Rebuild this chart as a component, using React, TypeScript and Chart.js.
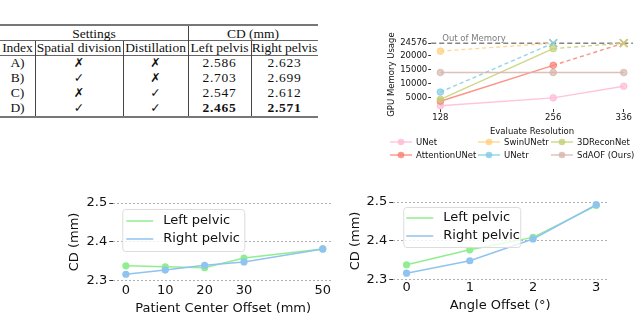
import React, { useEffect, useRef } from "react";
import { Chart, registerables } from "chart.js";
Chart.register(...registerables);

// ---------------- Table data ----------------
const TABLE_GROUPS = ["Settings", "CD (mm)"];
const TABLE_HEADERS = ["Index", "Spatial division", "Distillation", "Left pelvis", "Right pelvis"];
const TABLE_INDEX = ["A)", "B)", "C)", "D)"];
const SPATIAL_DIVISION = [false, true, false, true];
const DISTILLATION = [false, false, true, true];
const LEFT_PELVIS = ["2.586", "2.703", "2.547", "2.465"];
const RIGHT_PELVIS = ["2.623", "2.699", "2.612", "2.571"];
const BOLD_ROW = 3;

// ---------------- GPU memory chart data ----------------
const RESOLUTIONS = [128, 256, 336];
const OOM = 24576;
const OOM_TEXT = "Out of Memory";
const GPU_LABELS = ["UNet", "AttentionUNet", "SwinUNetr", "UNetr", "3DReconNet", "SdAOF (Ours)"];
const UNET = [2100, 4900, 9100];
const ATTENTION_UNET = [3700, 16600, OOM];
const SWIN_UNETR = [21700, OOM, null];
const UNETR = [7000, OOM, null];
const RECON_3D = [4400, 22600, OOM];
const SDAOF = [14000, 14000, 14000];
const GPU_Y_TICKS = [5000, 10000, 15000, 20000, 24576];
const GPU_VALUES = [UNET, ATTENTION_UNET, SWIN_UNETR, UNETR, RECON_3D, SDAOF];
const GPU_COLORS = ["#ffb9d6", "#fa8072", "#ffd07a", "#7fcbe6", "#c3d173", "#d6b5ad"];

// ---------------- CD charts data ----------------
const CD_SERIES = ["Left pelvic", "Right pelvic"];
const CD_Y_TICKS = [2.3, 2.4, 2.5];
const CENTER_OFFSET = [0, 10, 20, 30, 50];
const CENTER_LEFT = [2.3385, 2.336, 2.3335, 2.3585, 2.382];
const CENTER_RIGHT = [2.3168, 2.3275, 2.34, 2.3485, 2.382];
const ANGLE_OFFSET = [0, 1, 2, 3];
const ANGLE_LEFT = [2.3387, 2.377, 2.409, 2.4907];
const ANGLE_RIGHT = [2.317, 2.349, 2.405, 2.493];
const CD_COLORS = ["#90ee90", "#8fc3f0"];

const SANS = '"DejaVu Sans", sans-serif';
const TEXT = "#111";

function alpha(hex: string, a: number) {
  const n = parseInt(hex.slice(1), 16);
  return `rgba(${(n >> 16) & 255},${(n >> 8) & 255},${n & 255},${a})`;
}

function ChartCanvas({ makeConfig, left, top, width, height }: any) {
  const ref = useRef<HTMLCanvasElement>(null);
  useEffect(() => {
    const chart = new Chart(ref.current as HTMLCanvasElement, makeConfig());
    return () => chart.destroy();
  }, []);
  return (
    <canvas
      ref={ref}
      width={width}
      height={height}
      style={{ position: "absolute", left, top, width, height }}
    />
  );
}

// ---------------- Plugins ----------------
const oomPlugin = {
  id: "oomLine",
  beforeDatasetsDraw(chart: any) {
    const { ctx, chartArea, scales } = chart;
    const py = scales.y.getPixelForValue(OOM);
    ctx.save();
    ctx.strokeStyle = "rgba(110,110,110,0.85)";
    ctx.lineWidth = 1.5;
    ctx.setLineDash([5, 3]);
    ctx.beginPath();
    ctx.moveTo(chartArea.left, py);
    ctx.lineTo(chartArea.right, py);
    ctx.stroke();
    ctx.setLineDash([]);
    ctx.fillStyle = "rgba(110,110,110,0.9)";
    ctx.font = `8.5px ${SANS}`;
    ctx.textBaseline = "bottom";
    ctx.textAlign = "left";
    ctx.fillText(OOM_TEXT, chartArea.left + 11, py - 0.5);
    ctx.restore();
  },
};

const boxLegendPlugin = {
  id: "boxLegend",
  afterDraw(chart: any, _args: any, opts: any) {
    const { ctx, chartArea } = chart;
    const x = chartArea.left + opts.dx;
    const y = chartArea.top + opts.dy;
    ctx.save();
    ctx.beginPath();
    ctx.roundRect(x + 0.5, y + 0.5, opts.w, opts.h, 3);
    ctx.fillStyle = "rgba(255,255,255,0.8)";
    ctx.fill();
    ctx.strokeStyle = "#dcdcdc";
    ctx.lineWidth = 1;
    ctx.stroke();
    ctx.font = `13px ${SANS}`;
    ctx.textBaseline = "middle";
    ctx.textAlign = "left";
    chart.data.datasets.forEach((ds: any, i: number) => {
      const ly = y + opts.rows[i];
      ctx.strokeStyle = ds.borderColor;
      ctx.lineWidth = 1.5;
      ctx.beginPath();
      ctx.moveTo(x + opts.lineX[0], ly);
      ctx.lineTo(x + opts.lineX[1], ly);
      ctx.stroke();
      ctx.fillStyle = TEXT;
      ctx.fillText(ds.label, x + opts.textX, ly);
    });
    ctx.restore();
  },
};

// ---------------- Configs ----------------
function gpuConfig() {
  return {
    type: "line",
    data: {
      datasets: GPU_LABELS.map((label, i) => {
        const vals = GPU_VALUES[i];
        const pts = RESOLUTIONS.map((r, j) => ({ x: r, y: vals[j] })).filter((p) => p.y !== null);
        return {
          label,
          data: pts,
          order: GPU_LABELS.length - i,
          borderColor: alpha(GPU_COLORS[i], 0.85),
          backgroundColor: alpha(GPU_COLORS[i], 0.75),
          pointBackgroundColor: alpha(GPU_COLORS[i], 0.7),
          pointBorderColor: pts.map((p) => alpha(GPU_COLORS[i], p.y === OOM ? 0.95 : 0.8)),
          borderWidth: 1.4,
          pointStyle: pts.map((p) => (p.y === OOM ? "crossRot" : "circle")),
          pointRadius: pts.map((p) => (p.y === OOM ? 5.5 : 3.3)),
          pointBorderWidth: pts.map((p) => (p.y === OOM ? 1.6 : 1)),
          segment: {
            borderDash: (ctx: any) => (ctx.p1.parsed.y === OOM ? [4, 3] : undefined),
          },
          clip: false,
          tension: 0,
        };
      }),
    },
    options: {
      animation: false,
      responsive: false,
      devicePixelRatio: 1,
      layout: { padding: { top: 20, right: 2, bottom: 0, left: 0 } },
      plugins: { legend: { display: false }, tooltip: { enabled: false } },
      scales: {
        x: {
          type: "linear",
          min: 117.6,
          max: 346.4,
          afterBuildTicks: (s: any) => {
            s.ticks = RESOLUTIONS.map((v) => ({ value: v }));
          },
          grid: { drawOnChartArea: false, drawTicks: true, tickLength: 3, tickColor: "#333" },
          border: { display: false },
          ticks: { font: { family: SANS, size: 8.5 }, color: TEXT, padding: 1, maxRotation: 0 },
          title: {
            display: true,
            text: "Evaluate Resolution",
            font: { family: SANS, size: 8.5 },
            color: TEXT,
            padding: { top: 2.5, bottom: 0 },
          },
        },
        y: {
          type: "linear",
          min: 870,
          max: 25705,
          afterBuildTicks: (s: any) => {
            s.ticks = GPU_Y_TICKS.map((v) => ({ value: v }));
          },
          grid: { drawOnChartArea: false, drawTicks: true, tickLength: 3, tickColor: "#333" },
          border: { display: false },
          ticks: { font: { family: SANS, size: 8.5 }, color: TEXT, padding: 1, callback: (v: any) => String(v) },
          title: {
            display: true,
            text: "GPU Memory Usage",
            font: { family: SANS, size: 8.5 },
            color: TEXT,
            padding: { top: 2, bottom: 2 },
          },
        },
      },
    },
    plugins: [oomPlugin],
  };
}

function cdConfig(
  xs: number[],
  left: number[],
  right: number[],
  xTitle: string,
  xMin: number,
  xMax: number,
  legend: any,
  padding: any,
  yTitlePad: number,
  xTickPad: number,
  xTitlePad: number
) {
  const series = [left, right];
  return {
    type: "line",
    data: {
      datasets: CD_SERIES.map((label, i) => ({
        label,
        data: xs.map((x, j) => ({ x, y: series[i][j] })),
        order: CD_SERIES.length - 1 - i,
        borderColor: CD_COLORS[i],
        backgroundColor: CD_COLORS[i],
        pointBackgroundColor: CD_COLORS[i],
        pointBorderColor: CD_COLORS[i],
        borderWidth: 1.5,
        pointRadius: 3.6,
        pointBorderWidth: 0,
        clip: false,
        tension: 0,
      })),
    },
    options: {
      animation: false,
      responsive: false,
      devicePixelRatio: 1,
      layout: { padding },
      plugins: { legend: { display: false }, tooltip: { enabled: false }, boxLegend: legend },
      scales: {
        x: {
          type: "linear",
          min: xMin,
          max: xMax,
          afterBuildTicks: (s: any) => {
            s.ticks = xs.map((v) => ({ value: v }));
          },
          grid: { display: false, drawTicks: false },
          border: { display: false },
          ticks: { font: { family: SANS, size: 13 }, color: TEXT, padding: xTickPad, maxRotation: 0 },
          title: {
            display: true,
            text: xTitle,
            font: { family: SANS, size: 13 },
            color: TEXT,
            padding: { top: xTitlePad, bottom: 0 },
          },
        },
        y: {
          type: "linear",
          min: 2.3,
          max: 2.5,
          afterBuildTicks: (s: any) => {
            s.ticks = CD_Y_TICKS.map((v) => ({ value: v }));
          },
          grid: {
            color: "#b0b0b0",
            lineWidth: 1,
            drawTicks: true,
            tickLength: 4,
            tickColor: "#333",
            tickBorderDash: [],
          },
          border: { display: false, dash: [2, 2] },
          ticks: {
            font: { family: SANS, size: 13 },
            color: TEXT,
            padding: 2,
            callback: (v: any) => Number(v).toFixed(1),
          },
          title: {
            display: true,
            text: "CD (mm)",
            font: { family: SANS, size: 13 },
            color: TEXT,
            padding: { top: yTitlePad, bottom: yTitlePad },
          },
        },
      },
    },
    plugins: [boxLegendPlugin],
  };
}

// ---------------- Table ----------------
const COL_EDGES = [0, 35, 123, 188, 251, 318];
const ROW_TOPS = [25, 40, 55, 70, 85, 100];
const ROW_H = 15;
const SERIF = '"Liberation Serif", "Times New Roman", serif';

function Cell({ x0, x1, y, children, bold, sym, num }: any) {
  return (
    <div
      style={{
        position: "absolute",
        left: x0,
        width: x1 - x0,
        top: y,
        height: ROW_H,
        display: "flex",
        alignItems: "center",
        justifyContent: "center",
        fontFamily: sym ? SANS : SERIF,
        fontSize: sym ? 12.5 : 13.5,
        fontWeight: bold || sym ? 700 : 400,
        letterSpacing: num ? 0.7 : 0,
        color: TEXT,
        whiteSpace: "nowrap",
        lineHeight: "15px",
      }}
    >
      {children}
    </div>
  );
}

function Table() {
  const cells: any[] = [];
  cells.push(
    <Cell key="g0" x0={COL_EDGES[0]} x1={COL_EDGES[3]} y={ROW_TOPS[0] + 1}>
      {TABLE_GROUPS[0]}
    </Cell>
  );
  cells.push(
    <Cell key="g1" x0={COL_EDGES[3]} x1={COL_EDGES[5]} y={ROW_TOPS[0] + 1}>
      {TABLE_GROUPS[1]}
    </Cell>
  );
  TABLE_HEADERS.forEach((h, c) =>
    cells.push(
      <Cell key={"h" + c} x0={COL_EDGES[c]} x1={COL_EDGES[c + 1]} y={ROW_TOPS[1]}>
        {h}
      </Cell>
    )
  );
  TABLE_INDEX.forEach((idx, r) => {
    const y = ROW_TOPS[2 + r];
    const bold = r === BOLD_ROW;
    const row = [
      { v: idx },
      { v: SPATIAL_DIVISION[r] ? "✓" : "✗", sym: true },
      { v: DISTILLATION[r] ? "✓" : "✗", sym: true },
      { v: LEFT_PELVIS[r], num: true, bold },
      { v: RIGHT_PELVIS[r], num: true, bold },
    ];
    row.forEach((cell: any, c) =>
      cells.push(
        <Cell key={`r${r}c${c}`} x0={COL_EDGES[c]} x1={COL_EDGES[c + 1]} y={y} sym={cell.sym} num={cell.num} bold={cell.bold}>
          {cell.v}
        </Cell>
      )
    );
  });
  const hl = (y: number, h: number, color: string, key: string) => (
    <div key={key} style={{ position: "absolute", left: 0, width: COL_EDGES[5], top: y, height: h, background: color }} />
  );
  const vl = (x: number, y0: number, y1: number, key: string) => (
    <div key={key} style={{ position: "absolute", left: x, width: 1, top: y0, height: y1 - y0, background: "#444" }} />
  );
  return (
    <>
      {hl(24, 2, "#777", "t")}
      {hl(40, 1, "#666", "h1")}
      {hl(55, 1, "#666", "h2")}
      {hl(116, 2, "#777", "b")}
      {vl(COL_EDGES[3], 26, 116, "v3")}
      {vl(COL_EDGES[1], 41, 116, "v1")}
      {vl(COL_EDGES[2], 41, 116, "v2")}
      {vl(COL_EDGES[4], 41, 116, "v4")}
      {cells}
    </>
  );
}

// ---------------- GPU legend ----------------
const LEG_COL_X = [390, 478, 551];
const LEG_ROW_Y = [142, 154.5];

function GpuLegend() {
  return (
    <>
      {GPU_LABELS.map((label, i) => {
        const col = Math.floor(i / 2);
        const row = i % 2;
        const x = LEG_COL_X[col];
        const y = LEG_ROW_Y[row];
        return (
          <div key={label} style={{ position: "absolute", left: x, top: y - 6, height: 12, display: "flex", alignItems: "center" }}>
            <svg width={22} height={12} style={{ display: "block" }}>
              <line x1={0} y1={6} x2={22} y2={6} stroke={alpha(GPU_COLORS[i], 0.85)} strokeWidth={1.4} />
              <circle cx={11} cy={6} r={3.3} fill={alpha(GPU_COLORS[i], 0.8)} />
            </svg>
            <span style={{ marginLeft: 4, fontFamily: SANS, fontSize: 8.5, color: TEXT, whiteSpace: "nowrap", lineHeight: "12px" }}>
              {label}
            </span>
          </div>
        );
      })}
    </>
  );
}

export default function App() {
  return (
    <div style={{ position: "absolute", left: 0, top: 0, width: 640, height: 316, background: "#fff", overflow: "hidden" }}>
      <Table />
      <ChartCanvas makeConfig={gpuConfig} left={385} top={20} width={255} height={117} />
      <GpuLegend />
      <ChartCanvas
        makeConfig={() =>
          cdConfig(
            CENTER_OFFSET,
            CENTER_LEFT,
            CENTER_RIGHT,
            "Patient Center Offset (mm)",
            -3.2,
            52.6,
            { dx: 9, dy: 6, w: 122, h: 42, rows: [12, 30], lineX: [4, 31], textX: 41 },
            { top: 13, right: 7, bottom: 0, left: 0 },
            2,
            2,
            0
          )
        }
        left={65}
        top={190}
        width={275}
        height={126}
      />
      <ChartCanvas
        makeConfig={() =>
          cdConfig(
            ANGLE_OFFSET,
            ANGLE_LEFT,
            ANGLE_RIGHT,
            "Angle Offset (°)",
            -0.21,
            3.17,
            { dx: 10, dy: 5, w: 117, h: 40, rows: [11, 29], lineX: [3, 30], textX: 40 },
            { top: 12, right: 33, bottom: 3, left: 0 },
            1,
            0.5,
            1
          )
        }
        left={347}
        top={190}
        width={293}
        height={126}
      />
    </div>
  );
}
